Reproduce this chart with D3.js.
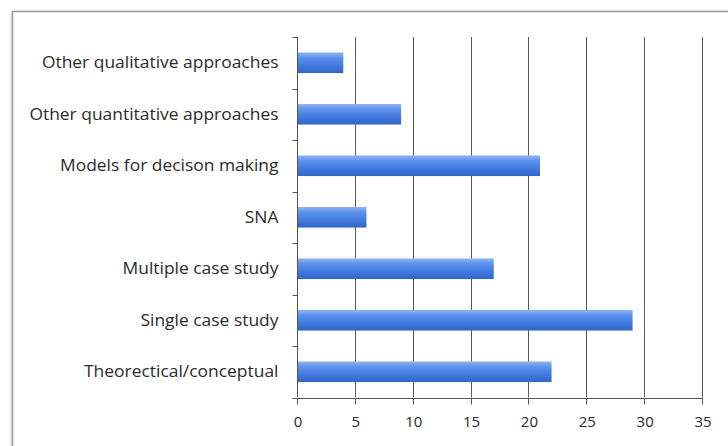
<!DOCTYPE html>
<html>
<head>
<meta charset="utf-8">
<script src="https://cdn.jsdelivr.net/npm/d3@7"></script>
<style>
  html, body { margin: 0; padding: 0; background: #fff; }
  svg { display: block; }
</style>
</head>
<body>
<svg id="chart" width="728" height="446"></svg>
<script>
// Research approaches, counted per category
const categories = [
  "Other qualitative approaches",
  "Other quantitative approaches",
  "Models for decison making",
  "SNA",
  "Multiple case study",
  "Single case study",
  "Theorectical/conceptual"
];
const counts = [4, 9, 21, 6, 17, 29, 22];
const xTicks = [0, 5, 10, 15, 20, 25, 30, 35];

const svg = d3.select("#chart");
const plot = { left: 297, right: 702, top: 37, bottom: 397.5 };

// Chart frame with a soft shadow
const defs = svg.append("defs");
const sh = defs.append("filter").attr("id", "shadow")
  .attr("x", "-5%").attr("y", "-5%").attr("width", "110%").attr("height", "110%");
sh.append("feGaussianBlur").attr("in", "SourceAlpha").attr("stdDeviation", 1.5);
sh.append("feOffset").attr("dx", 0).attr("dy", 1).attr("result", "b");
sh.append("feComponentTransfer").append("feFuncA").attr("type", "linear").attr("slope", 0.35);
const m = sh.append("feMerge");
m.append("feMergeNode");
m.append("feMergeNode").attr("in", "SourceGraphic");

svg.append("rect")
  .attr("x", 12.5).attr("y", 11.5).attr("width", 760).attr("height", 480)
  .attr("fill", "#fff").attr("stroke", "#9a9a9a").attr("stroke-width", 1.5)
  .attr("filter", "url(#shadow)");

// Bar gradient: light top edge, deep blue body, darker bottom edge
const grad = defs.append("linearGradient").attr("id", "barGrad")
  .attr("x1", 0).attr("y1", 0).attr("x2", 0).attr("y2", 1);
[
  [0, "#8fb4f4"], [0.25, "#5f93ec"], [0.6, "#437de2"], [1, "#3264c6"]
].forEach(([o, c]) => grad.append("stop").attr("offset", o).attr("stop-color", c));

const x = d3.scaleLinear().domain([0, 35]).range([plot.left, plot.right]);
const y = d3.scaleBand().domain(categories).range([plot.top, plot.bottom])
  .paddingInner(0.6).paddingOuter(0.3);
const band = d3.scaleBand().domain(categories).range([plot.top, plot.bottom]);

// Vertical gridlines
svg.append("g").selectAll("line").data(xTicks.slice(1)).join("line")
  .attr("x1", d => Math.round(x(d)) + 0.5).attr("x2", d => Math.round(x(d)) + 0.5)
  .attr("y1", plot.top).attr("y2", plot.bottom)
  .attr("stroke", "#5a5a5a").attr("stroke-width", 1);

// Bars
svg.append("g").selectAll("rect").data(categories).join("rect")
  .attr("x", x(0) + 1)
  .attr("y", d => y(d))
  .attr("width", (d, i) => x(counts[i]) - x(0) - 1)
  .attr("height", y.bandwidth())
  .attr("fill", "url(#barGrad)");

// Category axis
const yAxis = svg.append("g")
  .attr("transform", `translate(${Math.round(plot.left) + 0.5},0)`);
yAxis.append("line").attr("y1", plot.top).attr("y2", plot.bottom)
  .attr("stroke", "#555");
const bounds = categories.map(c => band(c)).concat([plot.bottom]);
yAxis.selectAll("line.tk").data(bounds).join("line").attr("class", "tk")
  .attr("x1", -5).attr("x2", 0)
  .attr("y1", d => Math.round(d) + 0.5).attr("y2", d => Math.round(d) + 0.5)
  .attr("stroke", "#555");

// Labels are set in a slightly widened face
const labelX = -19, stretch = 1.09;
const labels = yAxis.append("g").attr("transform", `translate(${labelX},0) scale(${stretch},1)`);
labels.selectAll("text").data(categories).join("text")
  .attr("x", 0)
  .attr("y", d => band(d) + band.bandwidth() / 2)
  .attr("dy", "0.35em")
  .attr("text-anchor", "end")
  .attr("font-family", "'Open Sans', sans-serif")
  .attr("font-size", 16)
  .attr("fill", "#2a2a2a")
  .text(d => d);

// Value axis
const xAxis = svg.append("g")
  .attr("transform", `translate(0,${Math.round(plot.bottom) + 0.5})`);
xAxis.append("line").attr("x1", plot.left).attr("x2", plot.right + 1)
  .attr("stroke", "#555");
xAxis.selectAll("line.tk").data(xTicks).join("line").attr("class", "tk")
  .attr("x1", d => Math.round(x(d)) + 0.5).attr("x2", d => Math.round(x(d)) + 0.5)
  .attr("y1", 0).attr("y2", 6)
  .attr("stroke", "#555");
xAxis.selectAll("text").data(xTicks).join("text")
  .attr("x", d => x(d) + 1)
  .attr("y", 28)
  .attr("text-anchor", "middle")
  .attr("font-family", "'Open Sans', sans-serif")
  .attr("font-size", 15)
  .attr("fill", "#2a2a2a")
  .text(d => d);
</script>
</body>
</html>
